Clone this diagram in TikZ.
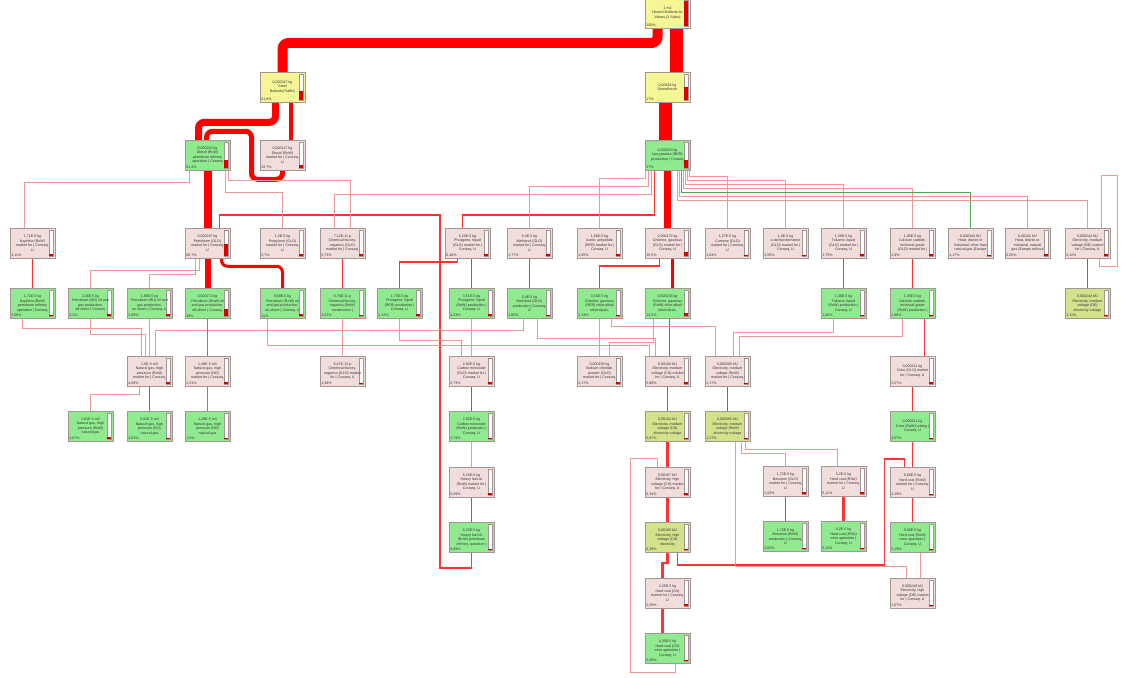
\documentclass[tikz,border=0pt]{standalone}
\usepackage{fontspec}
\setmainfont{Liberation Sans}
\usepackage{xcolor}
\usepackage{tikz}
\usetikzlibrary{positioning,calc}
\definecolor{mktpink}{RGB}{242,221,221}
\definecolor{prodgreen}{RGB}{144,234,144}
\definecolor{asmyellow}{RGB}{246,246,150}
\definecolor{voltolive}{RGB}{212,226,140}
\definecolor{flowred}{RGB}{255,0,0}
\definecolor{webred}{RGB}{240,150,150}
\definecolor{webgreen}{RGB}{80,165,80}
\definecolor{boxgray}{RGB}{165,150,150}
\pgfdeclarelayer{canvas}
\pgfdeclarelayer{wires}
\pgfsetlayers{canvas,wires,main}

\begin{document}
\begin{tikzpicture}[
        x=0.02cm, y=-0.02cm,
        node distance=0.5cm,
        box/.style={draw=boxgray, line width=0.3pt, minimum width=0.9cm, minimum height=0.6cm, inner sep=0pt, align=center, text=black!80, font=\fontsize{2.05}{2.55}\selectfont},
        mkt/.style={box, fill=mktpink},
        prod/.style={box, fill=prodgreen},
        asm/.style={box, fill=asmyellow},
        volt/.style={box, fill=voltolive},
        pctlab/.style={anchor=south west, inner sep=0.7pt, text=black!80, font=\fontsize{2.05}{2.4}\selectfont},
        pct/.style={label={[pctlab]south west:#1}},
        bar/.style={path picture={
            \draw[boxgray, line width=0.15pt, fill=white] ([shift={(-0.12cm,-0.04cm)}]path picture bounding box.north east) rectangle ([shift={(-0.04cm,0.04cm)}]path picture bounding box.south east);
            \fill[flowred!85!black] ([shift={(-0.115cm,0.045cm)}]path picture bounding box.south east) rectangle ([shift={(-0.045cm,{0.045cm+#1*0.5cm})}]path picture bounding box.south east);
        }},
        flow/.style={draw=flowred, line cap=round, line join=round, rounded corners=0.12cm},
        feed/.style={draw=flowred!80!white, line width=0.035cm},
        web/.style={draw=webred, line width=0.35pt},
        webg/.style={draw=webgreen, line width=0.45pt}
    ]
        \useasboundingbox (0,0) rectangle (1125,678);
        \begin{pgfonlayer}{canvas}
            \fill[white] (0,0) rectangle (1125,678);
        \end{pgfonlayer}

        % Assemblies
        \node[asm, bar=1, pct={100\%}] (TOP) at (667.5,13) {1 m2\\Heated Bollards for\\Values (2 Sides)};
        \node[asm, bar=0.35, pct={81,8\%}] (STB) at (282.5,87) {0,000347 kg\\Steel\\Bollards(Traffic)};
        \node[asm, bar=0.5, pct={17\%}] (STN) at (667.5,87) {0,00824 kg\\StoneBench};

        % Second level
        \node[prod, bar=0.3, pct={81,4\%}] (RFD) at (207.5,155) {0,000243 kg\\Diesel (RoW)\\petroleum refinery\\operation | Conseq};
        \node[mkt, bar=0.12, pct={22,7\%}] (DSM) at (282.5,155) {0,000117 kg\\Diesel (RoW)\\market for | Conseq,\\U};
        \node[prod, bar=0.3, pct={17\%}] (ISO) at (667.5,155) {0,000823 kg\\Isocyanates (RER)\\production | Conseq};

        % Markets
        \node[mkt, bar=0.06, pct={3,11\%}] (NAM) at (32.5,243) {1,71E-5 kg\\Naphtha (RoW)\\market for | Conseq,\\U};
        \node[mkt, bar=0.45, pct={66,7\%}] (PEM) at (207.5,243) {0,000197 kg\\Petroleum (GLO)\\market for | Conseq,\\U};
        \node[mkt, bar=0.05, pct={2,7\%}] (PRM) at (282.5,243) {1,2E-5 kg\\Propylene (GLO)\\market for | Conseq,\\U};
        \node[mkt, bar=0.06, pct={3,73\%}] (CFM) at (342.5,243) {7,12E-11 p\\Chemical factory,\\organics (GLO)\\market for | Conseq,};
        \node[mkt, bar=0.08, pct={6,48\%}] (PHM) at (467.5,243) {5,25E-5 kg\\Phosgene, liquid\\(GLO) market for |\\Conseq, U};
        \node[mkt, bar=0.05, pct={1,77\%}] (MEM) at (529.5,243) {5,4E-5 kg\\Methanol (GLO)\\market for | Conseq,\\U};
        \node[mkt, bar=0.05, pct={1,95\%}] (ACM) at (599.5,243) {1,66E-5 kg\\Acetic anhydride\\(RER) market for |\\Conseq, U};
        \node[mkt, bar=0.15, pct={15,5\%}] (CLM) at (667.5,243) {0,000172 kg\\Chlorine, gaseous\\(GLO) market for |\\Conseq, U};
        \node[mkt, bar=0.04, pct={1,04\%}] (CUM) at (727.5,243) {1,27E-5 kg\\Cumene (GLO)\\market for | Conseq,\\U};
        \node[mkt, bar=0.04, pct={1,55\%}] (DCM) at (785.5,243) {1,5E-5 kg\\o-dichlorobenzene\\(GLO) market for |\\Conseq, U};
        \node[mkt, bar=0.05, pct={1,75\%}] (TOM) at (843.5,243) {1,36E-5 kg\\Toluene, liquid\\(GLO) market for |\\Conseq, U};
        \node[mkt, bar=0.05, pct={1,9\%}] (CCM) at (912.5,243) {1,05E-5 kg\\Calcium carbide,\\technical grade\\(GLO) market for |};
        \node[mkt, bar=0.04, pct={1,17\%}] (HOT) at (970.5,243) {0,000344 MJ\\Heat, district or\\industrial, other than\\natural gas \{Europe};
        \node[mkt, bar=0.07, pct={6,05\%}] (HNG) at (1027.5,243) {0,00102 MJ\\Heat, district or\\industrial, natural\\gas \{Europe without};
        \node[mkt, bar=0.06, pct={3,11\%}] (EDM) at (1087.5,243) {0,000244 MJ\\Electricity, medium\\voltage (DE) market\\for | Conseq, U};

        % Producers
        \node[prod, bar=0.06, pct={3,08\%}, below=0.6cm of NAM] (NAP) {1,71E-5 kg\\Naphtha (RoW)\\petroleum refinery\\operation | Conseq,};
        \node[prod, bar=0.06, pct={3,2\%}] (PNO) at (90.5,303) {2,06E-5 kg\\Petroleum (NO) oil and\\gas production,\\off-shore | Conseq,};
        \node[prod, bar=0.06, pct={3,09\%}] (PRU) at (149.5,303) {1,86E-5 kg\\Petroleum (RU) oil and\\gas production,\\on-shore | Conseq, U};
        \node[prod, bar=0.3, pct={38\%}, below=0.6cm of PEM] (POF) {0,000172 kg\\Petroleum (RoW) oil\\and gas production,\\off-shore | Conseq,};
        \node[prod, bar=0.1, pct={11\%}, below=0.6cm of PRM] (PON) {9,69E-5 kg\\Petroleum (RoW) oil\\and gas production,\\on-shore | Conseq, U};
        \node[prod, bar=0.06, pct={3,51\%}, below=0.6cm of CFM] (CFC) {6,76E-11 p\\Chemical factory,\\organics (RoW)\\construction |};
        \node[prod, bar=0.05, pct={2,12\%}] (PHE) at (399.5,303) {1,73E-5 kg\\Phosgene, liquid\\(RER) production |\\Conseq, U};
        \node[prod, bar=0.06, pct={4,23\%}] (PHR) at (471.5,303) {3,51E-5 kg\\Phosgene, liquid\\(RoW) production |\\Conseq, U};
        \node[prod, bar=0.05, pct={1,65\%}, below=0.6cm of MEM] (MEP) {5,4E-5 kg\\Methanol (GLO)\\production | Conseq,\\U};
        \node[prod, bar=0.05, pct={2,13\%}, below=0.6cm of ACM] (CLE) {3,53E-5 kg\\Chlorine, gaseous\\(RER) chlor-alkali\\electrolysis,};
        \node[prod, bar=0.15, pct={13,2\%}, below=0.6cm of CLM] (CLR) {0,000136 kg\\Chlorine, gaseous\\(RoW) chlor-alkali\\electrolysis,};
        \node[prod, bar=0.05, pct={1,66\%}, below=0.6cm of TOM] (TOL) {1,36E-5 kg\\Toluene, liquid\\(RoW) production |\\Conseq, U};
        \node[prod, bar=0.05, pct={1,88\%}, below=0.6cm of CCM] (CCP) {1,05E-5 kg\\Calcium carbide,\\technical grade\\(RoW) production |};
        \node[volt, bar=0.06, pct={3,11\%}, below=0.6cm of EDM] (EDV) {0,000244 MJ\\Electricity, medium\\voltage (DE)\\electricity voltage};

        % Third level
        \node[mkt, bar=0.06, pct={4,09\%}] (NGM) at (149.5,371) {1,9E-5 m3\\Natural gas, high\\pressure (RoW)\\market for | Conseq,};
        \node[mkt, bar=0.05, pct={1,51\%}] (NGN) at (207.5,371) {1,49E-5 m3\\Natural gas, high\\pressure (NO)\\market for | Conseq,};
        \node[mkt, bar=0.04, pct={1,38\%}] (CFG) at (342.5,371) {8,47E-12 p\\Chemical factory,\\organics (GLO) market\\for | Conseq, U};
        \node[mkt, bar=0.05, pct={2,73\%}] (COM) at (471.5,371) {2,92E-5 kg\\Carbon monoxide\\(GLO) market for |\\Conseq, U};
        \node[mkt, bar=0.05, pct={2,17\%}] (NAC) at (599.5,371) {0,000156 kg\\Sodium chloride,\\powder (GLO)\\market for | Conseq,};
        \node[mkt, bar=0.07, pct={5,88\%}] (EMC) at (667.5,371) {0,00184 MJ\\Electricity, medium\\voltage (CN) market\\for | Conseq, U};
        \node[mkt, bar=0.04, pct={1,17\%}] (EMR) at (727.5,371) {0,000365 MJ\\Electricity, medium\\voltage (RoW)\\market for | Conseq,};
        \node[mkt, bar=0.05, pct={2,07\%}] (COK) at (912.5,371) {0,000211 kg\\Coke (GLO) market\\for | Conseq, U};

        \node[prod, bar=0.05, pct={2,07\%}] (NGR) at (90.5,426) {2,81E-5 m3\\Natural gas, high\\pressure (RoW)\\natural gas};
        \node[prod, bar=0.05, pct={2,01\%}, below=of NGM] (NGU) {3,91E-5 m3\\Natural gas, high\\pressure (RU)\\natural gas};
        \node[prod, bar=0.05, pct={1,5\%}, below=of NGN] (NGO) {1,49E-5 m3\\Natural gas, high\\pressure (NO)\\natural gas};
        \node[prod, bar=0.05, pct={2,74\%}, below=of COM] (COP) {2,92E-5 kg\\Carbon monoxide\\(RoW) production |\\Conseq, U};
        \node[volt, bar=0.07, pct={5,87\%}, below=of EMC] (EVC) {0,00184 MJ\\Electricity, medium\\voltage (CN)\\electricity voltage};
        \node[volt, bar=0.04, pct={1,17\%}, below=of EMR] (EVR) {0,000365 MJ\\Electricity, medium\\voltage (RoW)\\electricity voltage};
        \node[prod, bar=0.05, pct={2,07\%}, below=of COK] (COC) {0,000211 kg\\Coke (RoW) coking |\\Conseq, U};

        % Lower levels
        \node[mkt, bar=0.07, pct={6,09\%}, below=of COP] (HFM) {5,25E-5 kg\\Heavy fuel oil\\(RoW) market for |\\Conseq, U};
        \node[prod, bar=0.07, pct={6,09\%}, below=of HFM] (HFP) {5,25E-5 kg\\Heavy fuel oil\\(RoW) petroleum\\refinery operation |};
        \node[mkt, bar=0.07, pct={6,34\%}, below=of EVC] (EHC) {0,00187 MJ\\Electricity, high\\voltage (CN) market\\for | Conseq, U};
        \node[volt, bar=0.07, pct={6,39\%}, below=of EHC] (EHE) {0,00189 MJ\\Electricity, high\\voltage (CN)\\electricity};
        \node[mkt, bar=0.06, pct={3,59\%}, below=of EHE] (HCM) {4,35E-5 kg\\Hard coal (CN)\\market for | Conseq,\\U};
        \node[prod, bar=0.06, pct={3,59\%}, below=of HCM] (HCP) {4,35E-5 kg\\Hard coal (CN)\\mine operation |\\Conseq, U};
        \node[mkt, bar=0.05, pct={2,03\%}] (BZM) at (785.5,481) {1,72E-5 kg\\Benzene (GLO)\\market for | Conseq,\\U};
        \node[prod, bar=0.05, pct={2,03\%}, below=of BZM] (BZP) {1,72E-5 kg\\Benzene (RoW)\\production | Conseq,\\U};
        \node[mkt, bar=0.07, pct={5,11\%}] (HRM) at (843.5,481) {5,2E-5 kg\\Hard coal (RNA)\\market for | Conseq,\\U};
        \node[prod, bar=0.07, pct={5,11\%}, below=of HRM] (HRP) {5,2E-5 kg\\Hard coal (RNA)\\mine operation |\\Conseq, U};
        \node[mkt, bar=0.05, pct={2,19\%}, below=of COC] (HWM) {9,66E-5 kg\\Hard coal (RoW)\\market for | Conseq,\\U};
        \node[prod, bar=0.05, pct={2,19\%}, below=of HWM] (HWP) {9,66E-5 kg\\Hard coal (RoW)\\mine operation |\\Conseq, U};
        \node[mkt, bar=0.04, pct={1,07\%}, below=of HWP] (EHD) {0,000249 MJ\\Electricity, high\\voltage (DE) market\\for | Conseq, U};

        \begin{pgfonlayer}{wires}
        % Main flows
        \draw[flow, line width=0.2cm] ($(TOP.south)+(-10,0)$) |- (STB.north |- 0,43) -- (STB.north);
        \draw[flow, line width=0.26cm] ($(TOP.south)+(9,0)$) -- ($(STN.north)+(9,0)$);
        \draw[flow, line width=0.14cm] ($(STB.south)+(-7,0)$) -- ++(0,20) -| ($(RFD.north)+(-9,0)$);
        \draw[flow, line width=0.08cm] ($(STB.south)+(8,0)$) -- ($(DSM.north)+(8,0)$);
        \draw[flow, line width=0.1cm] (DSM.south) -- ++(0,9) -- ++(-31,0) -- ++(0,-48) -| ($(RFD.north)+(-1,0)$);
        \draw[flow, line width=0.16cm] (RFD.south) -- (PEM.north);
        \draw[flow, line width=0.12cm] (PEM.south) -- (POF.north);
        \draw[flow, line width=0.06cm] ($(PEM.south)+(14,0)$) -- ++(0,8) -| (PON.north);
        \draw[flow, line width=0.26cm] ($(STN.south)+(-2,0)$) -- ($(ISO.north)+(-2,0)$);
        \draw[flow, line width=0.14cm] (ISO.south) -- (CLM.north);
        \draw[flow, line width=0.06cm] ($(CLM.south)+(5,0)$) -- ($(CLR.north)+(5,0)$);

        % Feeds
        \draw[feed] (HFP.south) -- ++(0,15) -| (440,215) -| ($(PEM.north)+(12,0)$);
        \draw[feed] ($(ISO.south)+(-13,0)$) -- ++(0,45) -| ($(PHM.north)+(-5,0)$);
        \draw[feed] ($(CLM.south)+(-8,0)$) -- ++(0,8) -| (CLE.north);
        \draw[feed] ($(PHM.south)+(4,0)$) -- (PHR.north);
        \draw[feed] ($(PHM.south)+(-10,0)$) -- ++(0,4) -| (PHE.north);
        \draw[feed] (NAM.south) -- (NAP.north);
        \draw[feed] (CFM.south) -- (CFC.north);
        \draw[feed] (MEM.south) -- (MEP.north);
        \draw[feed] (TOM.south) -- (TOL.north);
        \draw[feed] (CCM.south) -- (CCP.north);
        \draw[feed] (EDM.south) -- (EDV.north);
        \draw[feed] ($(CLR.south)+(2,0)$) -- ($(EMC.north)+(2,0)$);
        \draw[feed] (EMC.south) -- (EVC.north);
        \draw[feed, line width=0.05cm] (EVC.south) -- (EHC.north);
        \draw[feed, line width=0.05cm] (EHC.south) -- (EHE.north);
        \draw[feed, line width=0.05cm] (EHE.south) -- ++(0,10) -- ++(-5,0) -- ($(HCM.north)+(-5,0)$);
        \draw[feed, line width=0.05cm] ($(HCM.south)+(-5,0)$) -- ($(HCP.north)+(-5,0)$);
        \draw[feed] (EMR.south) -- (EVR.north);
        \draw[feed] (COM.south) -- (COP.north);
        \draw[feed] (HFM.south) -- (HFP.north);
        \draw[feed] (COK.south) -- (COC.north);
        \draw[feed] (COC.south) -- (HWM.north);
        \draw[feed] (BZM.south) -- (BZP.north);
        \draw[feed, line width=0.05cm] (HRM.south) -- (HRP.north);
        \draw[feed] (HWM.south) -- (HWP.north);
        \draw[feed] (NGM.south) -- (NGU.north);
        \draw[feed] ($(CCP.south)+(12,0)$) -- ($(COK.north)+(12,0)$);
        \draw[feed] ($(EHE.south)+(10,0)$) -- ++(0,12) -- ++(207,0) |- ($(HWM.north)+(-8,-8)$) -- ($(HWM.north)+(-8,0)$);

        % Supply web
        \draw[web] ($(PEM.south)+(-8,0)$) -- ++(0,12) -| (PNO.north);
        \draw[web] ($(PEM.south)+(-12,0)$) -- ++(0,16) -| (PRU.north);
        \draw[web] ($(RFD.south)+(-18,0)$) -- ++(0,12) -| ($(NAM.north)+(-8,0)$);
        \draw[web] ($(RFD.south)+(18,0)$) -- ++(0,22) -| (PRM.north);
        \draw[web] ($(RFD.south)+(21,0)$) -- ++(0,10) -| ($(CFM.north)+(8,0)$);
        \draw[web] ($(ISO.south)+(-22,0)$) -- ++(0,8) -| (ACM.north);
        \draw[web] ($(ISO.south)+(-19,0)$) -- ++(0,16) -| (MEM.north);
        \draw[web] ($(ISO.south)+(-16,0)$) -- ++(0,24) -| ($(CFM.north)+(-8,0)$);
        \draw[web] ($(ISO.south)+(22,0)$) -- ++(0,6) -| (CUM.north);
        \draw[web] ($(ISO.south)+(20,0)$) -- ++(0,10) -| (DCM.north);
        \draw[web] ($(ISO.south)+(18,0)$) -- ++(0,14) -| (TOM.north);
        \draw[web] ($(ISO.south)+(16,0)$) -- ++(0,18) -| (CCM.north);
        \draw[webg] ($(ISO.south)+(14,0)$) -- ++(0,22) -| (HOT.north);
        \draw[web] ($(ISO.south)+(12,0)$) -- ++(0,26) -| (HNG.north);
        \draw[web] ($(ISO.south)+(10,0)$) -- ++(0,30) -| (EDM.north);
        \draw[web] ($(EDM.south)+(12,0)$) -- ++(0,8) -- ++(18,0) |- ($(EDM.north)+(14,-52)$) -- ($(EDM.north)+(14,0)$);
        \draw[web] ($(NAP.south)+(-10,0)$) -- ++(0,10) -| ($(NGM.north)+(-8,0)$);
        \draw[web] (PNO.south) -- ++(0,16) -| ($(NGM.north)+(-4,0)$);
        \draw[web] (PRU.south) -- (NGM.north);
        \draw[web] ($(MEP.south)+(-6,0)$) -- ++(0,12) -| ($(NGM.north)+(6,0)$);
        \draw[web] ($(MEP.south)+(8,0)$) -- ++(0,20) -| ($(EMC.north)+(-12,0)$);
        \draw[web] (PHR.south) -- (COM.north);
        \draw[web] (PHE.south) -- ++(0,22) -| ($(COM.north)+(-10,0)$);
        \draw[web] (CFC.south) -- (CFG.north);
        \draw[web] (CLE.south) -- (NAC.north);
        \draw[web] ($(CLR.south)+(-14,0)$) -- ++(0,24) -| ($(NAC.north)+(10,0)$);
        \draw[web] ($(CLE.south)+(12,0)$) -- ++(0,8) -| ($(EMR.north)+(-12,0)$);
        \draw[web] ($(TOL.south)+(-10,0)$) -- ++(0,14) -| ($(EMR.north)+(6,0)$);
        \draw[web] ($(CCP.south)+(-10,0)$) -- ++(0,18) -| ($(EMR.north)+(12,0)$);
        \draw[web] ($(PON.south)+(-15,0)$) -- ++(0,27) -| ($(EMC.north)+(-18,0)$);
        \draw[webg] (POF.south) -- (NGN.north);
        \draw[webg] (NGN.south) -- (NGO.north);
        \draw[web] ($(NGM.south)+(-10,0)$) -- ++(0,8) -| (NGR.north);
        \draw[web] (COP.south) -- (HFM.north);
        \draw[web] ($(EVR.south)+(14,0)$) -- ++(0,12) -| (BZM.north);
        \draw[web] ($(EVR.south)+(18,0)$) -- ++(0,8) -| ($(HRM.north)+(-6,0)$);
        \draw[web] ($(EVR.south)+(8,0)$) -- ++(0,125) -| ($(EHD.north)+(-6,0)$);
        \draw[web] ($(HWP.south)+(8,0)$) -- ($(EHD.north)+(8,0)$);
        \draw[web] ($(HCP.south)+(8,0)$) -- ++(0,8) -- ++(-45,0) |- ($(EHC.north)+(-10,-8)$) -- ($(EHC.north)+(-10,0)$);
        \end{pgfonlayer}

    \end{tikzpicture}
\end{document}
